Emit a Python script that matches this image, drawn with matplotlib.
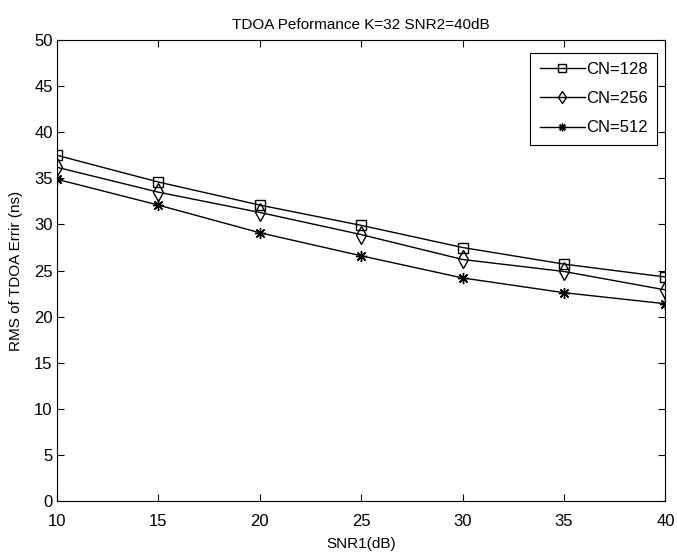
import matplotlib
matplotlib.use("Agg")
import matplotlib.pyplot as plt

plt.rcParams['font.family'] = ['Liberation Sans', 'DejaVu Sans']
plt.rcParams['font.size'] = 11

snr1 = [10, 15, 20, 25, 30, 35, 40]
cn128 = [37.5, 34.6, 32.1, 29.9, 27.5, 25.7, 24.3]
cn256 = [36.2, 33.5, 31.3, 28.9, 26.2, 24.9, 22.9]
cn512 = [34.9, 32.1, 29.1, 26.6, 24.2, 22.6, 21.4]
labels = ['CN=128', 'CN=256', 'CN=512']

fig = plt.figure(figsize=(6.77, 5.55), dpi=100)
ax = fig.add_axes([0.084, 0.097, 0.899, 0.831])

ax.plot(snr1, cn128, color='black', lw=1, marker='s', ms=7.5, mfc='none', mec='black', label=labels[0])
ax.plot(snr1, cn256, color='black', lw=1, marker='d', ms=9, mfc='none', mec='black', label=labels[1])
ax.plot(snr1, cn512, color='black', lw=1, marker=(8, 2, 0), ms=8, mec='black', label=labels[2])

ax.set_xlim(10, 40)
ax.set_ylim(0, 50)
ax.set_xticks(snr1)
ax.set_yticks(range(0, 51, 5))
ax.tick_params(direction='in', top=True, right=True, length=5, labelsize=12)
ax.tick_params(axis='x', pad=9)
ax.tick_params(axis='y', pad=3)
ax.set_xlabel('SNR1(dB)', fontsize=11, labelpad=6)
ax.set_ylabel('RMS of TDOA Errir (ns)', fontsize=11, labelpad=8)
ax.set_title('TDOA Peformance K=32 SNR2=40dB', fontsize=11, pad=8)

leg = ax.legend(loc='upper right', bbox_to_anchor=(0.986, 0.972), borderaxespad=0,
                fancybox=False, edgecolor='black', framealpha=1,
                fontsize=12, handlelength=2.7, handletextpad=0.1, labelspacing=0.85,
                markerscale=0.7, borderpad=0.55)
leg.get_frame().set_linewidth(0.8)

fig.savefig('out.png', dpi=100)
